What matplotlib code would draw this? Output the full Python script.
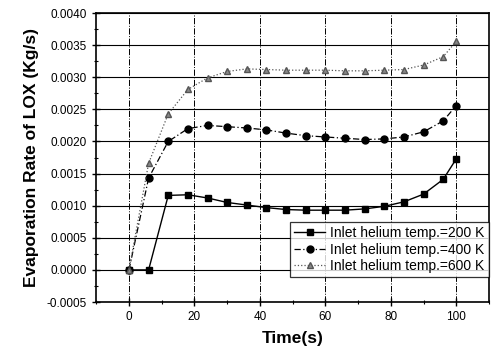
import matplotlib
matplotlib.use('Agg')
import matplotlib.pyplot as plt
from matplotlib.ticker import MultipleLocator, FormatStrFormatter

plt.rcParams['font.family'] = ['Liberation Sans', 'DejaVu Sans']

# time points (s)
time = [0, 6, 12, 18, 24, 30, 36, 42, 48, 54, 60, 66, 72, 78, 84, 90, 96, 100]

# evaporation rate of LOX (kg/s) for each inlet helium temperature
rate_200 = [0.0, 0.0, 0.00116, 0.00117, 0.00112, 0.00105, 0.00101, 0.00097,
            0.00094, 0.00093, 0.00093, 0.00093, 0.00095, 0.00099, 0.00106,
            0.00118, 0.00141, 0.00173]
rate_400 = [0.0, 0.00143, 0.00200, 0.00220, 0.00225, 0.00223, 0.00221, 0.00218,
            0.00213, 0.00209, 0.00207, 0.00205, 0.00203, 0.00204, 0.00207,
            0.00215, 0.00232, 0.00256]
rate_600 = [0.0, 0.00166, 0.00243, 0.00281, 0.00299, 0.00309, 0.00313, 0.00312,
            0.00311, 0.00311, 0.00311, 0.00310, 0.00310, 0.00311, 0.00312,
            0.00319, 0.00332, 0.00356]

labels = ['Inlet helium temp.=200 K', 'Inlet helium temp.=400 K',
          'Inlet helium temp.=600 K']

fig = plt.figure(figsize=(4.91, 3.52), dpi=100)
ax = fig.add_axes([0.196, 0.142, 0.800, 0.821])

ax.plot(time, rate_200, '-', color='black', lw=1.0, marker='s', ms=4.5,
        label=labels[0])
ax.plot(time, rate_400, linestyle=(0, (5, 2, 1, 2)), color='black', lw=0.9,
        marker='o', ms=5, label=labels[1])
ax.plot(time, rate_600, ':', color='#555555', lw=0.9, marker='^', ms=4,
        mfc='#888888', mec='#555555', label=labels[2])

ax.set_xlim(-10, 110)
ax.set_ylim(-0.0005, 0.0040)
ax.xaxis.set_major_locator(MultipleLocator(20))
ax.xaxis.set_minor_locator(MultipleLocator(10))
ax.yaxis.set_major_locator(MultipleLocator(0.0005))
ax.yaxis.set_minor_locator(MultipleLocator(0.00025))
ax.yaxis.set_major_formatter(FormatStrFormatter('%.4f'))

ax.grid(axis='y', which='major', color='black', lw=0.8)
ax.grid(axis='x', which='major', color='black', lw=0.7, linestyle='-.')

for s in ax.spines.values():
    s.set_linewidth(1.2)
ax.tick_params(which='major', direction='inout', length=6, width=1, labelsize=8.5)
ax.tick_params(which='minor', direction='inout', length=3, width=0.8)

ax.set_xlabel('Time(s)', fontsize=12.5, fontweight='bold', labelpad=6)
ax.set_ylabel('Evaporation Rate of LOX (Kg/s)', fontsize=12.5,
              fontweight='bold', labelpad=6)

leg = ax.legend(loc='lower right', bbox_to_anchor=(1.0, 0.085), borderaxespad=0,
                fontsize=10, frameon=True, fancybox=False, edgecolor='black',
                handlelength=2.2, borderpad=0.3, labelspacing=0.2,
                handletextpad=0.4)
leg.get_frame().set_linewidth(0.9)

fig.savefig('out.png', dpi=100)
